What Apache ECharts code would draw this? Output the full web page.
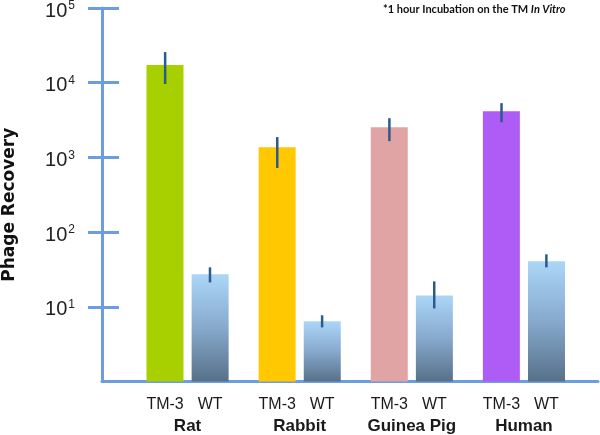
<!DOCTYPE html>
<html>
<head>
<meta charset="utf-8">
<script src="https://cdn.jsdelivr.net/npm/echarts@6/dist/echarts.min.js"></script>
<style>html,body{margin:0;padding:0;background:#fff}#c{width:600px;height:435px}</style>
</head>
<body>
<div id="c"></div>
<script>
const categories = ['Rat', 'Rabbit', 'Guinea Pig', 'Human'];
const barLabels = ['TM-3', 'WT'];
const tm3Values = [17200, 1370, 2540, 4150];
const tm3Low = [9600, 720, 1650, 2960];
const tm3High = [25700, 1870, 3350, 5330];
const wtValues = [27.2, 6.4, 14.2, 40.6];
const wtLow = [21.2, 5.3, 9.5, 33.7];
const wtHigh = [33.7, 7.7, 21.9, 50.4];
const tm3Colors = ['#a8d000', '#ffc800', '#e0a4a4', '#ad5cf6'];
const yTicks = [10, 100, 1000, 10000, 100000];
const note = '*1 hour Incubation on the TM ';
const noteItalic = 'In Vitro';
const yTitle = 'Phage Recovery';

const axisColor = '#6b9de0';
const errColor = '#2a5b8c';

function errSeries(low, high, sign) {
  return {
    type: 'custom', xAxisIndex: 1, yAxisIndex: 1, z: 5,
    data: low.map((l, i) => [i, l, high[i]]),
    renderItem: function (params, api) {
      const band = api.size([1, 1])[0];
      const off = sign * band * 0.2;
      const p1 = api.coord([api.value(0), api.value(1)]);
      const p2 = api.coord([api.value(0), api.value(2)]);
      return {
        type: 'line',
        shape: { x1: p1[0] + off, y1: p1[1], x2: p2[0] + off, y2: p2[1] },
        style: { stroke: errColor, lineWidth: 2.5 }
      };
    }
  };
}

const chart = echarts.init(document.getElementById('c'), null, { renderer: 'canvas' });
chart.setOption({
  animation: false,
  backgroundColor: '#fff',
  title: {
    text: note + '{i|' + noteItalic + '}',
    left: 383, top: 4, padding: 0,
    textStyle: {
      fontFamily: 'Lato', fontWeight: 'bold', fontSize: 11, color: '#111',
      rich: { i: { fontFamily: 'Lato', fontWeight: 'bold', fontStyle: 'italic', fontSize: 11, color: '#111' } }
    }
  },
  grid: [
    { left: 102, right: 2, top: 8, bottom: 53.5, outerBoundsMode: 'none', containLabel: false },
    { left: 131.5, right: 20, top: 8, bottom: 53.5, outerBoundsMode: 'none', containLabel: false }
  ],
  xAxis: [
    {
      type: 'category', gridIndex: 0, data: [''],
      axisLine: { show: true, lineStyle: { color: axisColor, width: 3 } },
      axisTick: { show: false }, axisLabel: { show: false }
    },
    {
      type: 'category', gridIndex: 1, data: categories,
      axisLine: { show: false }, axisTick: { show: false },
      axisLabel: {
        margin: 12, interval: 0,
        formatter: function (v) {
          return '{a|' + barLabels[0] + '}{w|' + barLabels[1] + '}\n{c|' + v + '}';
        },
        rich: {
          a: { width: 45, align: 'center', fontFamily: 'Liberation Sans', fontSize: 16, color: '#1a1a1a', lineHeight: 22 },
          w: { width: 45, align: 'center', fontFamily: 'Liberation Sans', fontSize: 16, color: '#1a1a1a', lineHeight: 22 },
          c: { width: 90, align: 'center', fontFamily: 'Liberation Sans', fontWeight: 'bold', fontSize: 17, color: '#1a1a1a', lineHeight: 22 }
        }
      }
    }
  ],
  yAxis: [
    {
      type: 'log', logBase: 10, min: 1, max: 100000, gridIndex: 0,
      name: yTitle, nameLocation: 'middle', nameRotate: 90, nameGap: 84,
      nameTextStyle: { fontFamily: 'DejaVu Sans', fontWeight: 'bold', fontSize: 17, color: '#111', padding: [0, 20, 0, 0] },
      axisLine: { show: true, lineStyle: { color: axisColor, width: 3 } },
      axisTick: { show: true, length: 14, customValues: yTicks, lineStyle: { color: axisColor, width: 3 } },
      splitLine: { show: false },
      axisLabel: {
        margin: 27, customValues: yTicks, padding: [6, 0, 0, 0],
        formatter: function (v) {
          const e = Math.round(Math.log10(v));
          return '{a|10}{b|' + e + '}';
        },
        rich: {
          a: { fontFamily: 'Liberation Sans', fontSize: 20, color: '#222' },
          b: { fontFamily: 'Liberation Sans', fontSize: 12, color: '#222', padding: [0, 0, 10, 1] }
        }
      }
    },
    {
      type: 'log', logBase: 10, min: 1, max: 100000, gridIndex: 1, offset: 29.5,
      axisLine: { show: false },
      axisTick: { show: true, inside: true, length: 17, customValues: yTicks, lineStyle: { color: axisColor, width: 3 } },
      axisLabel: { show: false }, splitLine: { show: false }
    }
  ],
  series: [
    {
      name: barLabels[0], type: 'bar', xAxisIndex: 1, yAxisIndex: 1,
      barWidth: 37, barGap: '22%',
      data: tm3Values.map((v, i) => ({ value: v, itemStyle: { color: tm3Colors[i] } }))
    },
    {
      name: barLabels[1], type: 'bar', xAxisIndex: 1, yAxisIndex: 1,
      barWidth: 37, barGap: '22%',
      itemStyle: {
        color: new echarts.graphic.LinearGradient(0, 0, 0, 1, [
          { offset: 0, color: '#acd6f8' },
          { offset: 0.5, color: '#86a9cc' },
          { offset: 1, color: '#587089' }
        ])
      },
      data: wtValues
    },
    errSeries(tm3Low, tm3High, -1),
    errSeries(wtLow, wtHigh, 1)
  ]
});
</script>
</body>
</html>
